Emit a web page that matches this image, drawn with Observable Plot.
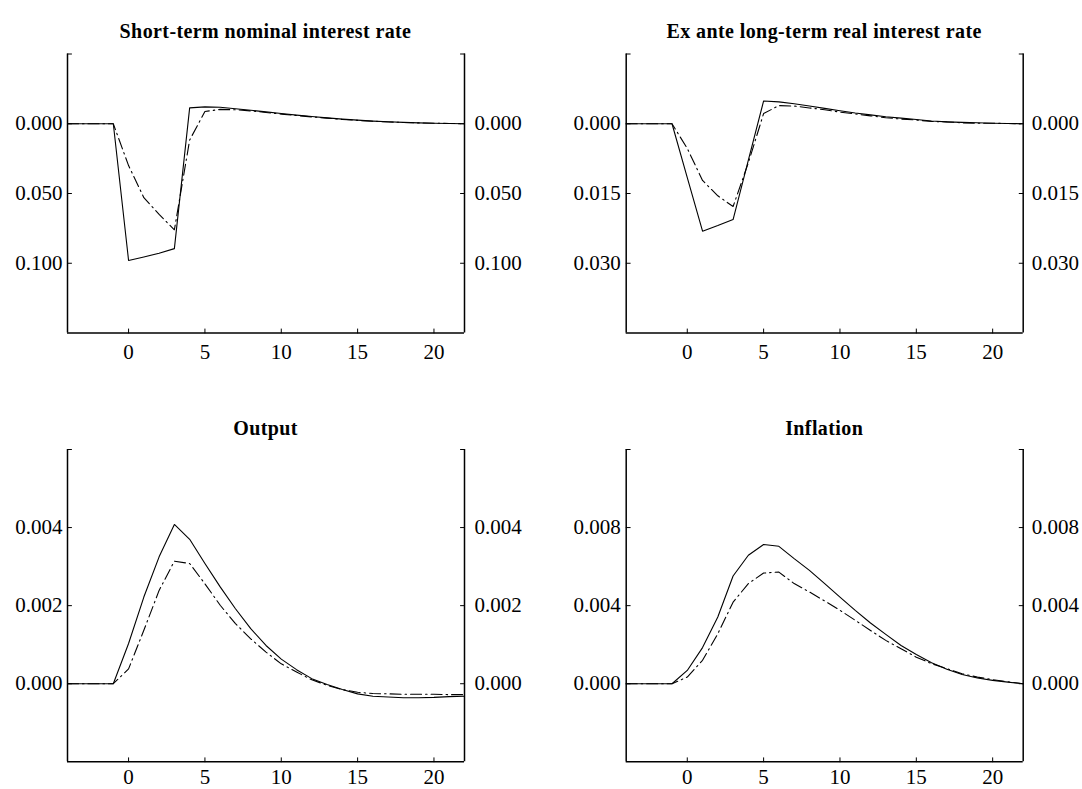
<!DOCTYPE html>
<html>
<head>
<meta charset="utf-8">
<script src="https://cdn.jsdelivr.net/npm/d3@7"></script>
<script src="https://cdn.jsdelivr.net/npm/@observablehq/plot@0.6"></script>
<style>
  html, body { margin: 0; padding: 0; background: #fff; }
  #root { position: relative; width: 1082px; height: 789px; background: #fff; overflow: hidden; }
  .panel { position: absolute; }
  .title { position: absolute; text-align: center; font-family: "Liberation Serif", "Times New Roman", serif;
           font-weight: bold; font-size: 20px; line-height: 20px; letter-spacing: 0.4px; color: #000; white-space: nowrap; }
</style>
</head>
<body>
<div id="root"></div>
<script>
// ---------------- data ----------------
const periods = [-4, -3, -2, -1, 0, 1, 2, 3, 4, 5, 6, 7, 8, 9, 10, 11, 12, 13, 14, 15, 16, 17, 18, 19, 20, 21, 22];

const xTicks = [0, 5, 10, 15, 20];

const titles = [
  "Short-term nominal interest rate",
  "Ex ante long-term real interest rate",
  "Output",
  "Inflation"
];

// Short-term nominal interest rate
const rateSolid = [0, 0, 0, 0, -0.098, -0.0955, -0.0928, -0.0895, 0.0114, 0.0121, 0.0118, 0.0108, 0.0097, 0.0085,
  0.0073, 0.0062, 0.0052, 0.0042, 0.0033, 0.0026, 0.0019, 0.0014, 0.0010, 0.0006, 0.0004, 0.0002, 0.0000];
const rateDashDot = [0, 0, 0, 0, -0.030, -0.053, -0.065, -0.076, -0.0117, 0.0088, 0.0103, 0.0100, 0.0092, 0.0081,
  0.0069, 0.0059, 0.0049, 0.0040, 0.0031, 0.0024, 0.0018, 0.0013, 0.0009, 0.0006, 0.0004, 0.0002, 0.0000];
const rateTicks = [0, -0.05, -0.1];

// Ex ante long-term real interest rate
const realSolid = [0, 0, 0, 0, -0.0116, -0.0231, -0.0219, -0.0206, -0.0078, 0.0049, 0.0047, 0.0043, 0.0038, 0.0033,
  0.0028, 0.0023, 0.0019, 0.0015, 0.0012, 0.0009, 0.0006, 0.0004, 0.0003, 0.0002, 0.0001, 0.00005, 0];
const realDashDot = [0, 0, 0, 0, -0.0053, -0.0122, -0.0155, -0.0178, -0.0084, 0.0022, 0.0039, 0.0038, 0.0034, 0.0030,
  0.0025, 0.0021, 0.0017, 0.0013, 0.0010, 0.0008, 0.0005, 0.0004, 0.0002, 0.0001, 0.0001, 0.00005, 0];
const realTicks = [0, -0.015, -0.03];

// Output
const outputSolid = [0, 0, 0, 0, 0.00103, 0.00222, 0.00325, 0.00408, 0.0037, 0.00308, 0.00248, 0.00192, 0.00141, 0.00098,
  0.00063, 0.00036, 0.00013, -0.00002, -0.00015, -0.00026, -0.00032, -0.00034, -0.00036, -0.00036, -0.00035, -0.00033, -0.00032];
const outputDashDot = [0, 0, 0, 0, 0.00038, 0.00137, 0.00239, 0.00314, 0.00308, 0.00256, 0.00201, 0.00154, 0.00115, 0.00081,
  0.00051, 0.0003, 0.0001, -0.00004, -0.00015, -0.00022, -0.00025, -0.00026, -0.00027, -0.00027, -0.00027, -0.00028, -0.00028];
const outputTicks = [0, 0.002, 0.004];

// Inflation
const inflSolid = [0, 0, 0, 0, 0.00068, 0.00185, 0.00342, 0.00552, 0.00658, 0.00713, 0.00704, 0.00641, 0.00581, 0.00513,
  0.00444, 0.00376, 0.00311, 0.00253, 0.00196, 0.0015, 0.00108, 0.00074, 0.00047, 0.00029, 0.00017, 0.00008, 0];
const inflDashDot = [0, 0, 0, 0, 0.00034, 0.0012, 0.00256, 0.00418, 0.00513, 0.00567, 0.00572, 0.00513, 0.0047, 0.00424,
  0.00376, 0.00325, 0.00273, 0.00222, 0.00179, 0.00136, 0.00103, 0.00077, 0.00051, 0.00034, 0.00021, 0.0001, 0];
const inflTicks = [0, 0.004, 0.008];

// ---------------- drawing ----------------
const xDomain = [-4, 22];
const fmt = d => d3.format(".3f")(Math.abs(d));
const tickShape = { draw(context, l) { context.moveTo(0, 0); context.lineTo(0, -l); } };

function panel(cfg) {
  const rows = periods.map((t, i) => ({ t, solid: cfg.solid[i], dd: cfg.dashdot[i] }));
  const yd = cfg.yDomain;
  const leftTicks = [...cfg.yTicks, yd[1]];
  const chart = Plot.plot({
    width: cfg.width, height: cfg.height,
    marginLeft: cfg.ml, marginRight: cfg.mr, marginTop: cfg.mt, marginBottom: cfg.mb,
    style: { fontFamily: "'Liberation Serif', 'Times New Roman', serif", fontSize: "21px", color: "#000", background: "#fff", overflow: "visible" },
    x: { domain: xDomain, label: null },
    y: { domain: yd, label: null },
    marks: [
      Plot.axisY(cfg.yTicks, { anchor: "left", tickSize: 0, tickPadding: cfg.padL, tickFormat: fmt, label: null }),
      Plot.axisY(cfg.yTicks, { anchor: "right", tickSize: 0, tickPadding: cfg.padR, tickFormat: fmt, label: null }),
      Plot.axisX(xTicks, { anchor: "bottom", tickSize: 0, tickPadding: cfg.padB, tickFormat: d => String(d), label: null }),
      Plot.vector(leftTicks, { x: xDomain[0], y: d => d, rotate: 90, length: 4, anchor: "start", shape: tickShape, stroke: "#000", strokeWidth: 1 }),
      Plot.vector(leftTicks, { x: xDomain[1], y: d => d, rotate: -90, length: 4, anchor: "start", shape: tickShape, stroke: "#000", strokeWidth: 1 }),
      Plot.vector(xTicks, { x: d => d, y: yd[0], rotate: 0, length: 4, anchor: "start", shape: tickShape, stroke: "#000", strokeWidth: 1 }),
      Plot.line(rows, { x: "t", y: "solid", stroke: "#000", strokeWidth: 1.1 }),
      Plot.line(rows, { x: "t", y: "dd", stroke: "#000", strokeWidth: 1.1, strokeDasharray: "11,4,1.5,4" }),
      Plot.ruleX(xDomain, { stroke: "#000", strokeWidth: 1.5 }),
      Plot.ruleY([yd[0]], { stroke: "#000", strokeWidth: 1.5 })
    ]
  });
  const holder = document.createElement("div");
  holder.className = "panel";
  holder.style.left = cfg.left + "px";
  holder.style.top = cfg.top + "px";
  holder.appendChild(chart);
  root.appendChild(holder);

  const t = document.createElement("div");
  t.className = "title";
  const plotW = cfg.width - cfg.ml - cfg.mr;
  t.style.left = (cfg.left + cfg.ml - 100) + "px";
  t.style.width = (plotW + 200) + "px";
  t.style.top = (cfg.titleBaseline - 17) + "px";
  t.textContent = cfg.title;
  root.appendChild(t);
}

const root = document.getElementById("root");

panel({ title: titles[0], solid: rateSolid, dashdot: rateDashDot, yDomain: [-0.15, 0.05], yTicks: rateTicks,
  left: 0, top: 0, width: 541, height: 390, ml: 67, mr: 77, mt: 53.5, mb: 57.5, padL: 5, padR: 10, padB: 11, titleBaseline: 38 });
panel({ title: titles[1], solid: realSolid, dashdot: realDashDot, yDomain: [-0.045, 0.015], yTicks: realTicks,
  left: 541, top: 0, width: 541, height: 390, ml: 84.7, mr: 59.3, mt: 53.5, mb: 57.5, padL: 5.5, padR: 8.5, padB: 11, titleBaseline: 38 });
panel({ title: titles[2], solid: outputSolid, dashdot: outputDashDot, yDomain: [-0.002, 0.006], yTicks: outputTicks,
  left: 0, top: 390, width: 541, height: 399, ml: 67, mr: 77, mt: 59, mb: 27.7, padL: 5, padR: 10, padB: 7, titleBaseline: 435 });
panel({ title: titles[3], solid: inflSolid, dashdot: inflDashDot, yDomain: [-0.004, 0.012], yTicks: inflTicks,
  left: 541, top: 390, width: 541, height: 399, ml: 84.7, mr: 59.3, mt: 59, mb: 27.7, padL: 5.5, padR: 8.5, padB: 7, titleBaseline: 435 });
</script>
</body>
</html>
